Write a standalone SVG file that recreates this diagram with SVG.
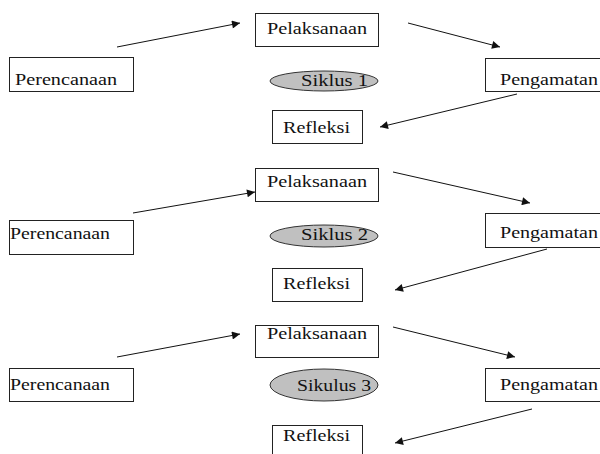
<svg xmlns="http://www.w3.org/2000/svg" width="600" height="454" viewBox="0 0 600 454">
<defs>
<style>
.box{fill:#fff;stroke:#222;stroke-width:1}
.ell{fill:#c0c0c0;stroke:#333;stroke-width:1}
.t{font-family:"Liberation Serif","Times New Roman",serif;font-size:16px;fill:#111}
.c{stroke:#111;stroke-width:1;fill:none;marker-end:url(#ah)}
</style>
<marker id="ah" viewBox="0 0 10 10" refX="10" refY="5" markerWidth="11" markerHeight="8" markerUnits="userSpaceOnUse" orient="auto">
<path d="M0,0 L10,5 L0,10 Z" fill="#111"/>
</marker>
</defs>
<rect width="600" height="454" fill="#fff"/>
<g id="connectors">
<line class="c" x1="117" y1="47" x2="240" y2="23"/>
<line class="c" x1="408" y1="23" x2="500" y2="47"/>
<line class="c" x1="517" y1="94" x2="380" y2="127"/>
<line class="c" x1="133" y1="213" x2="255" y2="192"/>
<line class="c" x1="393" y1="172" x2="530" y2="203"/>
<line class="c" x1="547" y1="249" x2="395" y2="290"/>
<line class="c" x1="117" y1="357" x2="240" y2="334"/>
<line class="c" x1="393" y1="327" x2="515" y2="357"/>
<line class="c" x1="532" y1="409" x2="395" y2="443"/>
</g>
<g id="perencanaan1"><rect class="box" x="9.5" y="57.5" width="124" height="34"/><text class="t" x="15" y="85" textLength="102" lengthAdjust="spacingAndGlyphs">Perencanaan</text></g>
<g id="pelaksanaan1"><rect class="box" x="255.5" y="13.5" width="123" height="33"/><text class="t" x="267" y="34" textLength="100" lengthAdjust="spacingAndGlyphs">Pelaksanaan</text></g>
<g id="siklus1"><ellipse class="ell" cx="324" cy="81" rx="54" ry="10"/><text class="t" x="301" y="86" textLength="67" lengthAdjust="spacingAndGlyphs">Siklus 1</text></g>
<g id="pengamatan1"><rect class="box" x="485.5" y="58.5" width="120" height="33"/><text class="t" x="500" y="85" textLength="98" lengthAdjust="spacingAndGlyphs">Pengamatan</text></g>
<g id="refleksi1"><rect class="box" x="272.5" y="110.5" width="90" height="33"/><text class="t" x="283" y="133" textLength="67" lengthAdjust="spacingAndGlyphs">Refleksi</text></g>

<g id="perencanaan2"><rect class="box" x="9.5" y="220.5" width="124" height="34"/><text class="t" x="10" y="239" textLength="100" lengthAdjust="spacingAndGlyphs">Perencanaan</text></g>
<g id="pelaksanaan2"><rect class="box" x="255.5" y="168.5" width="123" height="33"/><text class="t" x="267" y="187" textLength="100" lengthAdjust="spacingAndGlyphs">Pelaksanaan</text></g>
<g id="siklus2"><ellipse class="ell" cx="324" cy="236" rx="54" ry="11"/><text class="t" x="301" y="240" textLength="67" lengthAdjust="spacingAndGlyphs">Siklus 2</text></g>
<g id="pengamatan2"><rect class="box" x="485.5" y="213.5" width="120" height="34"/><text class="t" x="500" y="238" textLength="98" lengthAdjust="spacingAndGlyphs">Pengamatan</text></g>
<g id="refleksi2"><rect class="box" x="272.5" y="268.5" width="90" height="33"/><text class="t" x="283" y="289" textLength="67" lengthAdjust="spacingAndGlyphs">Refleksi</text></g>

<g id="perencanaan3"><rect class="box" x="9.5" y="368.5" width="124" height="33"/><text class="t" x="10" y="390" textLength="100" lengthAdjust="spacingAndGlyphs">Perencanaan</text></g>
<g id="pelaksanaan3"><rect class="box" x="255.5" y="325.5" width="123" height="32"/><text class="t" x="267" y="339" textLength="100" lengthAdjust="spacingAndGlyphs">Pelaksanaan</text></g>
<g id="siklus3"><ellipse class="ell" cx="324" cy="385" rx="54" ry="16"/><text class="t" x="297" y="391" textLength="74" lengthAdjust="spacingAndGlyphs">Sikulus 3</text></g>
<g id="pengamatan3"><rect class="box" x="485.5" y="368.5" width="120" height="33"/><text class="t" x="500" y="390" textLength="98" lengthAdjust="spacingAndGlyphs">Pengamatan</text></g>
<g id="refleksi3"><rect class="box" x="272.5" y="425.5" width="90" height="35"/><text class="t" x="283" y="441" textLength="67" lengthAdjust="spacingAndGlyphs">Refleksi</text></g>
</svg>
